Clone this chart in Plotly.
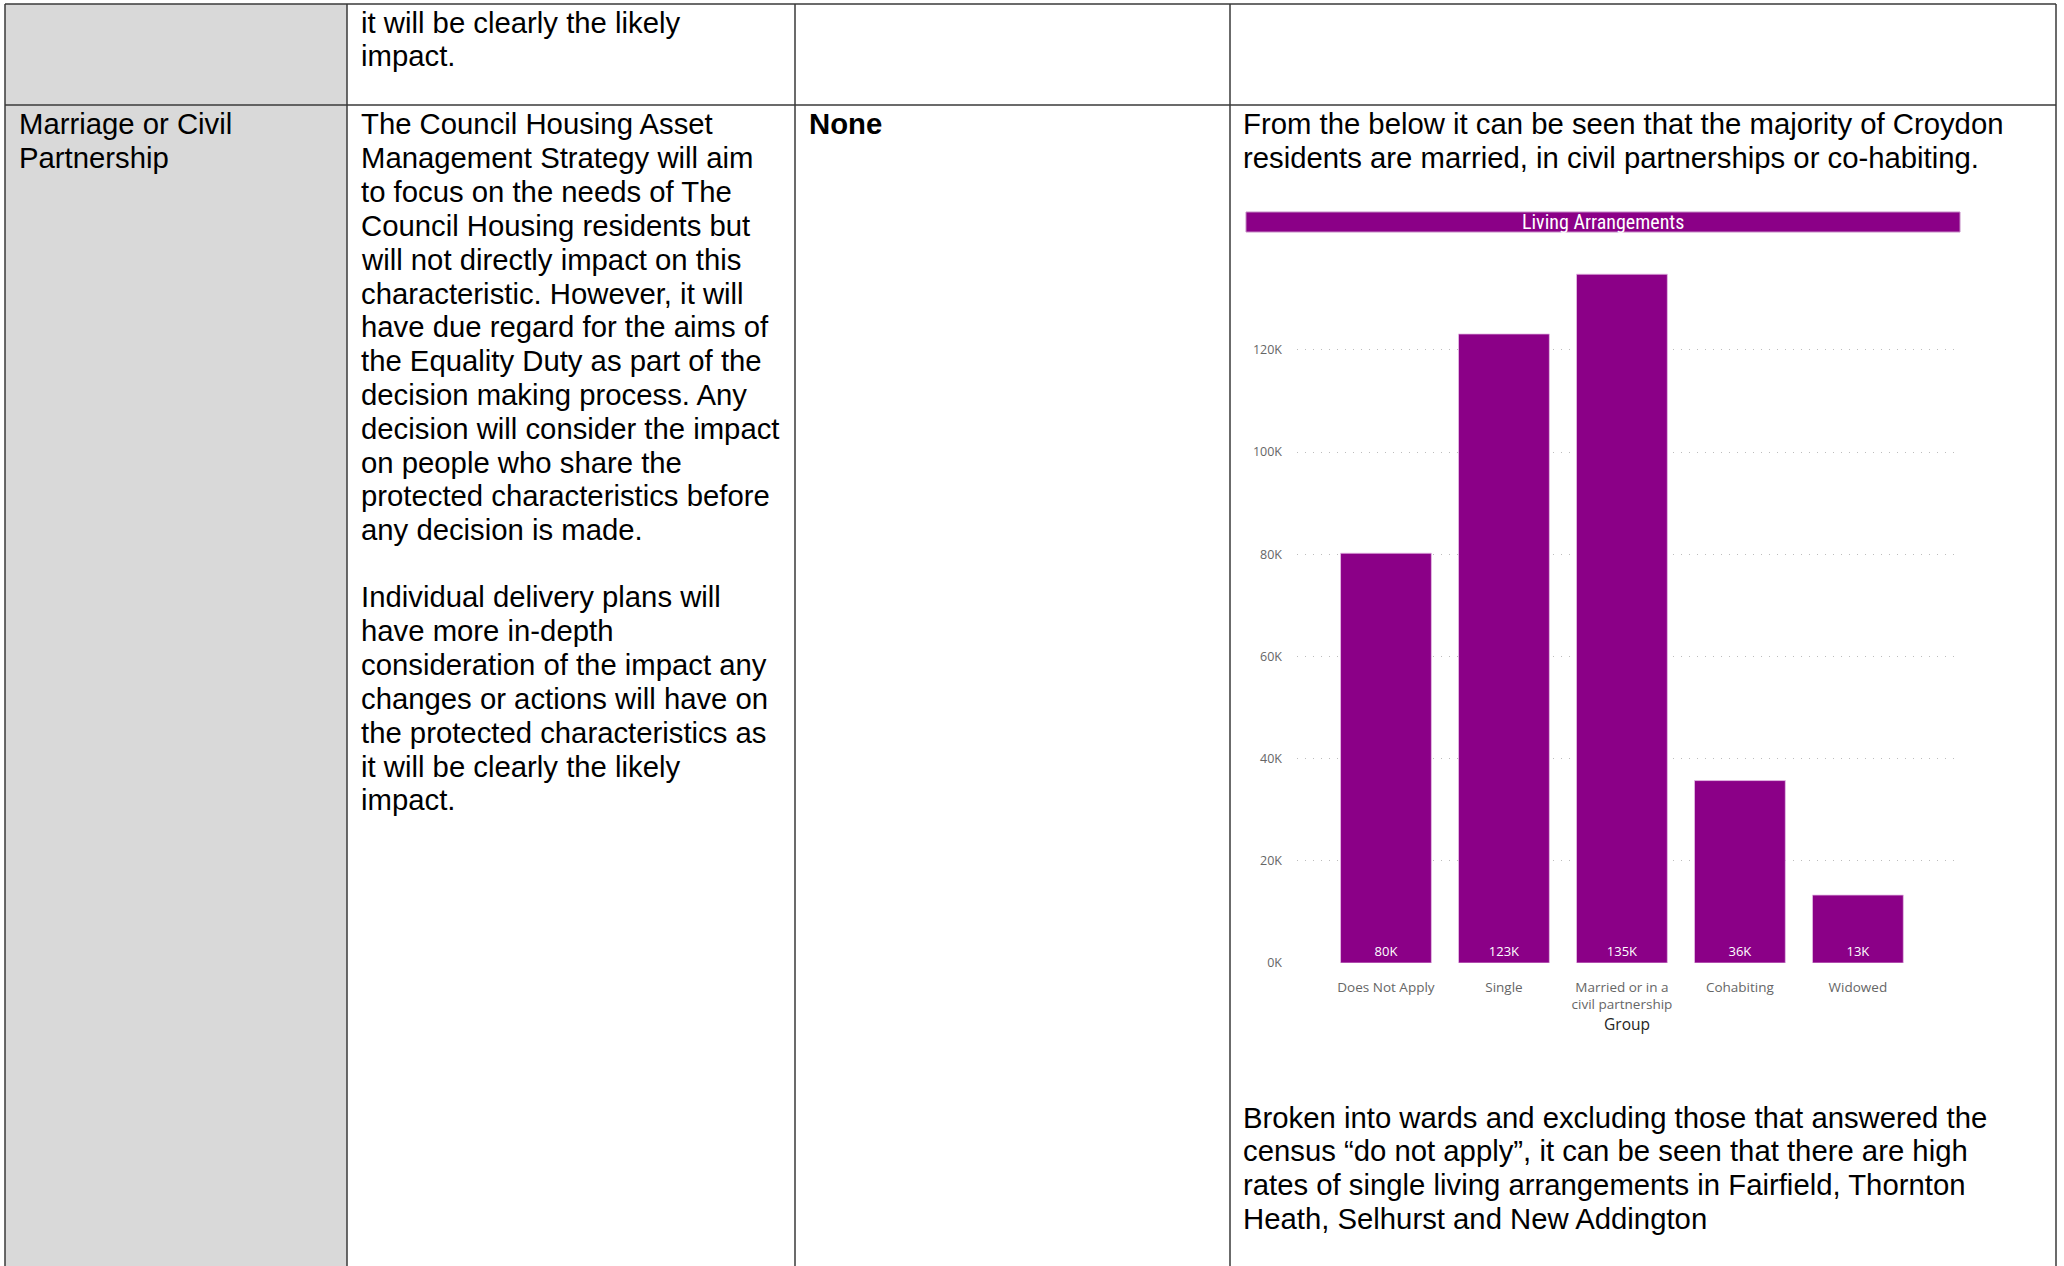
import plotly.graph_objects as go

W, H = 2064, 1266

# ---- chart data ----
categories = ["Does Not Apply", "Single", "Married or in a<br>civil partnership", "Cohabiting", "Widowed"]
values = [80200, 123100, 134800, 35700, 13300]
value_labels = ["80K", "123K", "135K", "36K", "13K"]
y_tickvals = [0, 20000, 40000, 60000, 80000, 100000, 120000]
y_ticktext = ["0K", "20K", "40K", "60K", "80K", "100K", "120K"]
chart_title = "Living Arrangements"
x_title = "Group"

# ---- document text ----
row1_col2 = ["it will be clearly the likely", "impact."]
row2_col1 = ["Marriage or Civil", "Partnership"]
row2_col2_a = ["The Council Housing Asset", "Management Strategy will aim",
               "to focus on the needs of The", "Council Housing residents but",
               "will not directly impact on this", "characteristic. However, it will",
               "have due regard for the aims of", "the Equality Duty as part of the",
               "decision making process. Any", "decision will consider the impact",
               "on people who share the", "protected characteristics before",
               "any decision is made."]
row2_col2_b = ["Individual delivery plans will", "have more in-depth",
               "consideration of the impact any", "changes or actions will have on",
               "the protected characteristics as", "it will be clearly the likely",
               "impact."]
row2_col3 = ["None"]
row2_col4_a = ["From the below it can be seen that the majority of Croydon",
               "residents are married, in civil partnerships or co-habiting."]
row2_col4_b = ["Broken into wards and excluding those that answered the",
               "census \u201cdo not apply\u201d, it can be seen that there are high",
               "rates of single living arrangements in Fairfield, Thornton",
               "Heath, Selhurst and New Addington"]

PURPLE = "#8B0087"
DOC_FONT = "Liberation Sans, Arial, sans-serif"
PBI_FONT = "Open Sans, Noto Sans, sans-serif"
FS = 29.3
LH = 33.8


def px(x):
    return x / W


def py(y):
    return 1 - y / H


fig = go.Figure()
fig.add_trace(go.Bar(
    x=categories, y=values, text=value_labels,
    textposition="inside", insidetextanchor="start",
    textfont=dict(color="white", size=13, family=PBI_FONT),
    marker=dict(color=PURPLE, line=dict(color="rgba(230,190,230,0.8)", width=1)),
    width=0.77, cliponaxis=False, hoverinfo="skip",
))

shapes = []
# gray first column
shapes.append(dict(type="rect", xref="paper", yref="paper", x0=px(5), x1=px(347), y0=0, y1=py(4),
                   fillcolor="#d9d9d9", line=dict(width=0), layer="below"))
line_col = "#3a3a3a"
# outer + grid lines of the document table
for xv in [5, 347, 795, 1230, 2056]:
    shapes.append(dict(type="line", xref="paper", yref="paper", x0=px(xv), x1=px(xv), y0=py(4), y1=0,
                       line=dict(color=line_col, width=1.5)))
for yv in [4, 105]:
    shapes.append(dict(type="line", xref="paper", yref="paper", x0=px(5), x1=px(2056), y0=py(yv), y1=py(yv),
                       line=dict(color=line_col, width=1.5)))
# chart title bar
shapes.append(dict(type="rect", xref="paper", yref="paper", x0=px(1246), x1=px(1960), y0=py(232), y1=py(212),
                   fillcolor=PURPLE, line=dict(color="#c48ac4", width=1)))

annotations = []


def add_lines(lines, x, y0, bold=False, lh=LH):
    for i, t in enumerate(lines):
        txt = f"<b>{t}</b>" if bold else t
        annotations.append(dict(text=txt, x=px(x), y=py(y0 + i * lh), xref="paper", yref="paper",
                                xanchor="left", yanchor="middle", showarrow=False,
                                font=dict(family=DOC_FONT, size=FS, color="black")))


add_lines(row1_col2, 359, 22)
add_lines(row2_col1, 17, 124)
add_lines(row2_col2_a, 359, 124)
add_lines(row2_col2_b, 359, 597)
add_lines(row2_col3, 807, 124, bold=True)
add_lines(row2_col4_a, 1241, 124)
add_lines(row2_col4_b, 1241, 1117)

annotations.append(dict(text=chart_title, x=px(1603), y=py(222), xref="paper", yref="paper",
                        xanchor="center", yanchor="middle", showarrow=False,
                        font=dict(family="Liberation Sans Narrow, Roboto Condensed, Roboto, sans-serif",
                                  size=20, color="white")))

# axis geometry (pixels)
x_left, x_right = 1297, 1957
y_zero, y_top = 963, 196.5
y_max = (y_zero - y_top) / (102.2 / 20000)

fig.update_layout(
    template="none",
    width=W, height=H, margin=dict(l=0, r=0, t=0, b=0, pad=0, autoexpand=False),
    paper_bgcolor="white", plot_bgcolor="white", showlegend=False,
    shapes=shapes, annotations=annotations, bargap=0.23,
    xaxis=dict(domain=[px(x_left), px(x_right)], range=[-0.754, 4.84], showgrid=False, zeroline=False,
               showline=False, ticks="", ticklabelstandoff=14, automargin=False,
               tickfont=dict(family=PBI_FONT, size=13.5, color="#666666"),
               title=dict(text=x_title, font=dict(family=PBI_FONT, size=15.5, color="#252423"), standoff=4)),
    yaxis=dict(domain=[py(y_zero), py(y_top)], range=[0, y_max], tickvals=y_tickvals, ticktext=y_ticktext,
               showgrid=True, gridcolor="#bdbdbd", griddash="1px,7px", gridwidth=1.2, zeroline=False,
               showline=False, ticks="", ticklabelstandoff=14, automargin=False,
               tickfont=dict(family=PBI_FONT, size=12.5, color="#666666")),
)

fig.write_html("out.html", config={"displayModeBar": False, "responsive": False},
               post_script="document.body.style.margin='0';document.body.style.overflow='hidden';")
